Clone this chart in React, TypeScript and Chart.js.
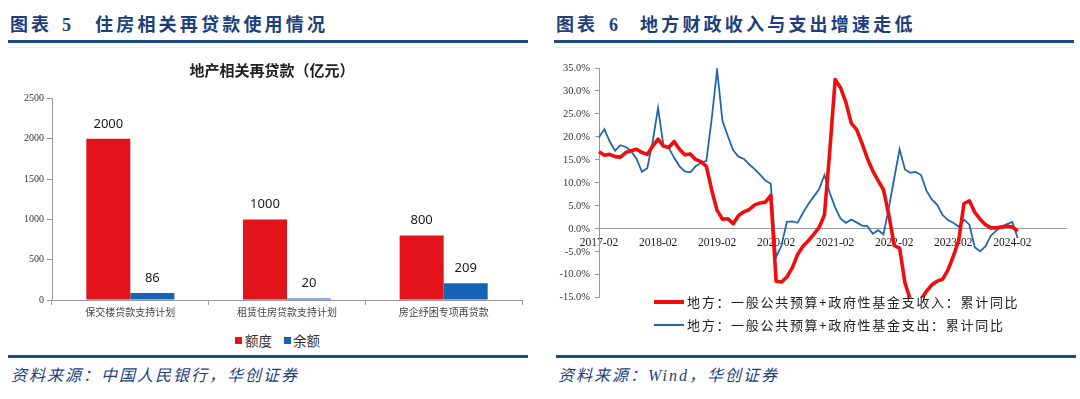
import React, { useEffect, useRef } from 'react';
import { Chart, registerables } from 'chart.js';

Chart.register(...registerables);

// ---------- Left chart data ----------
const barCategories = ['保交楼贷款支持计划', '租赁住房贷款支持计划', '房企纾困专项再贷款'];
const quotaValues = [2000, 1000, 800];
const balanceValues = [86, 20, 209];
const barSeriesNames = ['额度', '余额'];

// ---------- Right chart data ----------
const lineYears = [2017, 2018, 2019, 2020, 2021, 2022, 2023, 2024];
const lineMonths = ['02', '03', '04', '05', '06', '07', '08', '09', '10', '11', '12'];
const lineLabels: string[] = [];
lineYears.forEach((y) => lineMonths.forEach((m) => lineLabels.push(`${y}-${m}`)));

const revenueYoY = [
  16.8, 16.0, 16.2, 15.7, 15.6, 16.6, 17.0, 17.3, 16.6, 16.2, 18.0,
  19.5, 18.0, 17.7, 19.0, 17.3, 16.1, 16.3, 15.1, 14.6, 13.6, 8.4,
  4.0, 2.1, 2.2, 1.1, 2.9, 3.7, 4.2, 5.2, 5.6, 5.8, 7.3,
  -11.4, -11.6, -10.5, -8.5, -5.6, -3.8, -2.6, -1.2, 0.3, 3.0, 17.0,
  32.5, 30.7, 27.5, 23.0, 21.6, 18.6, 15.3, 12.6, 10.5, 8.5, 3.0,
  -3.6, -4.2, -11.8, -15.4, -17.0, -15.4, -13.6, -12.2, -11.4, -11.0, -9.0,
  -6.0, -2.6, 5.5, 6.1, 3.6, 2.1, 0.9, 0.2, 0.2, 0.4, 0.6,
  0.4, -0.5,
];

const expenditureYoY = [
  19.9, 21.7, 19.0, 17.0, 18.2, 17.8, 16.9, 15.2, 12.4, 13.2, 19.0,
  26.3, 18.2, 17.6, 15.5, 13.6, 12.5, 12.3, 13.6, 14.3, 14.8, 24.0,
  34.6, 23.5, 20.2, 17.1, 15.7, 15.2, 14.0, 13.0, 11.8, 10.5, 9.8,
  -6.2, -3.6, 1.5, 1.6, 1.3, 3.5, 5.4, 7.0, 8.6, 11.7, 7.8,
  4.6, 2.2, 1.3, 2.0, 1.4, 0.7, 0.6, -1.1, -0.3, -1.2, 4.6,
  11.0, 17.3, 12.9, 12.2, 12.4, 11.7, 8.3, 6.4, 5.2, 3.0, 1.9,
  1.3, 0.5, 2.0, 0.9, -4.0, -4.9, -3.8, -1.5, -0.4, 0.5, 1.0,
  1.5, -2.0,
];

const lineSeriesNames = [
  '地方：一般公共预算+政府性基金支收入：累计同比',
  '地方：一般公共预算+政府性基金支出：累计同比',
];

const RED_BAR = '#E3131B';
const BLUE_BAR = '#1663B6';
const RED_LINE = '#F20D0D';
const BLUE_LINE = '#2166B0';
const NAVY = '#1F4A8A';
const SERIF = '"Liberation Serif", "Noto Sans CJK SC", serif';
const CJK = '"Noto Sans CJK SC", sans-serif';

const barValueLabels = {
  id: 'barValueLabels',
  afterDatasetsDraw(chart: any) {
    const { ctx } = chart;
    ctx.save();
    ctx.font = '13px "Noto Sans", sans-serif';
    ctx.fillStyle = '#1a1a1a';
    ctx.textAlign = 'center';
    ctx.textBaseline = 'middle';
    chart.data.datasets.forEach((ds: any, di: number) => {
      const meta = chart.getDatasetMeta(di);
      meta.data.forEach((el: any, i: number) => {
        ctx.fillText(String(ds.data[i]), el.x, el.y - 15);
      });
    });
    ctx.restore();
  },
};

function BarChart() {
  const ref = useRef<HTMLCanvasElement>(null);
  useEffect(() => {
    const chart = new Chart(ref.current!, {
      type: 'bar',
      data: {
        labels: barCategories,
        datasets: [
          { label: barSeriesNames[0], data: quotaValues, backgroundColor: RED_BAR },
          { label: barSeriesNames[1], data: balanceValues, backgroundColor: BLUE_BAR },
        ],
      },
      options: {
        responsive: false,
        animation: false,
        devicePixelRatio: 1,
        layout: { padding: { left: 0, right: 18, top: 48.5, bottom: 0 } },
        datasets: { bar: { barPercentage: 1, categoryPercentage: 0.562 } },
        plugins: { legend: { display: false }, title: { display: false }, tooltip: { enabled: false } },
        scales: {
          x: {
            afterFit: (s: any) => { s.height = 30; },
            grid: { drawOnChartArea: false, drawTicks: true, tickLength: 5, color: '#999' },
            border: { display: true, color: '#999' },
            ticks: { color: '#444', font: { family: CJK, size: 10 }, padding: 1, maxRotation: 0 },
          },
          y: {
            min: 0,
            max: 2500,
            afterFit: (s: any) => { s.width = 52; },
            grid: { drawOnChartArea: false, drawTicks: true, tickLength: 5, color: '#999' },
            border: { display: true, color: '#999' },
            ticks: {
              stepSize: 500,
              color: '#333',
              font: { family: SERIF, size: 10 },
              padding: 3,
              callback: (v: any) => String(v),
            },
          },
        },
      },
      plugins: [barValueLabels],
    } as any);
    return () => chart.destroy();
  }, []);
  return (
    <canvas
      ref={ref}
      width={540}
      height={280}
      style={{ position: 'absolute', left: 0, top: 50, width: 540, height: 280 }}
    />
  );
}

function LineChart() {
  const ref = useRef<HTMLCanvasElement>(null);
  useEffect(() => {
    const chart = new Chart(ref.current!, {
      type: 'line',
      data: {
        labels: lineLabels,
        datasets: [
          {
            label: lineSeriesNames[0],
            data: revenueYoY,
            borderColor: RED_LINE,
            borderWidth: 3.6,
            pointRadius: 0,
            tension: 0,
            borderJoinStyle: 'round',
          },
          {
            label: lineSeriesNames[1],
            data: expenditureYoY,
            borderColor: BLUE_LINE,
            borderWidth: 1.8,
            pointRadius: 0,
            tension: 0,
          },
        ],
      },
      options: {
        responsive: false,
        animation: false,
        devicePixelRatio: 1,
        layout: { padding: { left: 0, right: 14, top: 18, bottom: 2 } },
        plugins: { legend: { display: false }, title: { display: false }, tooltip: { enabled: false } },
        scales: {
          x: {
            position: { y: 0 },
            afterFit: (s: any) => { s.height = 0; },
            grid: { drawOnChartArea: false, drawTicks: false },
            border: { display: true, color: '#999', width: 1 },
            ticks: {
              autoSkip: false,
              maxRotation: 0,
              minRotation: 0,
              padding: 7,
              color: '#222',
              font: { family: SERIF, size: 11.5 },
              callback: (_v: any, i: number) => (lineLabels[i].endsWith('-02') ? lineLabels[i] : ''),
            },
          },
          y: {
            min: -15,
            max: 35,
            afterFit: (s: any) => { s.width = 59; },
            grid: { drawOnChartArea: false, drawTicks: true, tickLength: 4, color: '#999' },
            border: { display: true, color: '#999' },
            ticks: {
              stepSize: 5,
              padding: 5,
              color: '#333',
              font: { family: SERIF, size: 10.5 },
              callback: (v: any) => `${Number(v).toFixed(1)}%`,
            },
          },
        },
      },
    } as any);
    return () => chart.destroy();
  }, []);
  return (
    <canvas
      ref={ref}
      width={540}
      height={259}
      style={{ position: 'absolute', left: 540, top: 50, width: 540, height: 259 }}
    />
  );
}

const abs = (s: React.CSSProperties): React.CSSProperties => ({ position: 'absolute', whiteSpace: 'nowrap', ...s });

export default function App() {
  const headerText: React.CSSProperties = {
    fontFamily: SERIF,
    fontWeight: 'bold',
    fontSize: 18,
    lineHeight: '18px',
    color: '#1D3F7E',
  };
  const footerText: React.CSSProperties = {
    fontFamily: SERIF,
    fontStyle: 'italic',
    fontSize: 16,
    lineHeight: '16px',
    letterSpacing: 2,
    color: '#1D3F7E',
  };
  return (
    <div style={{ position: 'absolute', left: 0, top: 0, width: 1080, height: 399, background: '#fff', overflow: 'hidden' }}>
      {/* headers */}
      <span style={abs({ ...headerText, left: 10, top: 16, letterSpacing: 3 })}>图表</span>
      <span style={abs({ ...headerText, left: 62, top: 16 })}>5</span>
      <span style={abs({ ...headerText, left: 95, top: 16, letterSpacing: 3.2 })}>住房相关再贷款使用情况</span>
      <span style={abs({ ...headerText, left: 556, top: 16, letterSpacing: 3 })}>图表</span>
      <span style={abs({ ...headerText, left: 609, top: 16 })}>6</span>
      <span style={abs({ ...headerText, left: 640, top: 16, letterSpacing: 3.2 })}>地方财政收入与支出增速走低</span>
      <div style={abs({ left: 8, top: 40, width: 520, height: 3, background: NAVY })} />
      <div style={abs({ left: 554, top: 40, width: 520, height: 3, background: NAVY })} />
      <div style={abs({ left: 8, top: 47, width: 520, height: 1, background: '#ececec' })} />
      <div style={abs({ left: 554, top: 47, width: 520, height: 1, background: '#ececec' })} />

      <BarChart />
      <LineChart />

      {/* left chart title */}
      <div style={abs({ left: 0, width: 544, top: 61, textAlign: 'center', fontFamily: CJK, fontWeight: 'bold', fontSize: 15, lineHeight: '18px', color: '#222' })}>
        地产相关再贷款（亿元）
      </div>

      {/* left legend */}
      <div style={abs({ left: 235, top: 337, width: 7, height: 7, background: RED_BAR })} />
      <span style={abs({ left: 245, top: 333, fontFamily: CJK, fontSize: 13.5, lineHeight: '14px', color: '#333' })}>{barSeriesNames[0]}</span>
      <div style={abs({ left: 284, top: 337, width: 7, height: 7, background: BLUE_BAR })} />
      <span style={abs({ left: 293, top: 333, fontFamily: CJK, fontSize: 13.5, lineHeight: '14px', color: '#333' })}>{barSeriesNames[1]}</span>

      {/* right legend */}
      <div style={abs({ left: 640, top: 298, width: 420, height: 40, background: '#fff' })} />
      <div style={abs({ left: 654, top: 300, width: 30, height: 4, background: RED_LINE })} />
      <span style={abs({ left: 687, top: 294, fontFamily: CJK, fontSize: 13, lineHeight: '15px', letterSpacing: 1.7, color: '#222' })}>{lineSeriesNames[0]}</span>
      <div style={abs({ left: 654, top: 324, width: 30, height: 2, background: BLUE_LINE })} />
      <span style={abs({ left: 687, top: 317, fontFamily: CJK, fontSize: 13, lineHeight: '15px', letterSpacing: 1.7, color: '#222' })}>{lineSeriesNames[1]}</span>

      {/* footers */}
      <div style={abs({ left: 8, top: 355, width: 520, height: 3, background: NAVY })} />
      <div style={abs({ left: 556, top: 355, width: 520, height: 3, background: NAVY })} />
      <span style={abs({ ...footerText, left: 11, top: 368 })}>资料来源：中国人民银行，华创证券</span>
      <span style={abs({ ...footerText, left: 558, top: 368 })}>资料来源：Wind，华创证券</span>
    </div>
  );
}
